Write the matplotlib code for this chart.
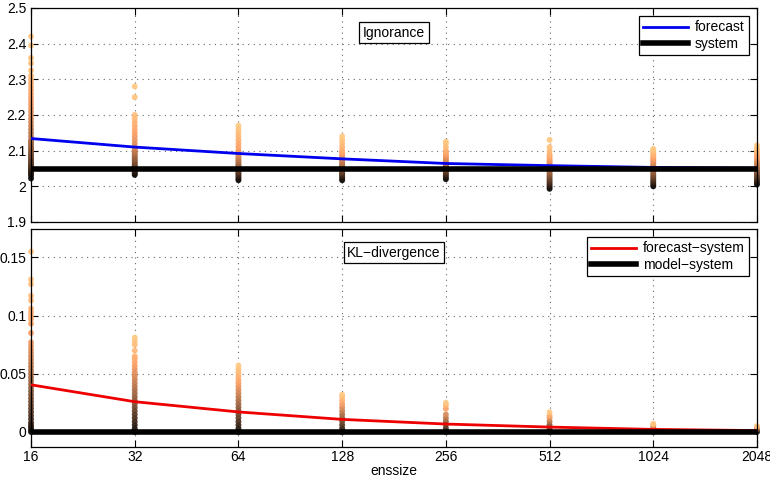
import numpy as np
import matplotlib
matplotlib.use("Agg")
import matplotlib.pyplot as plt

plt.rcParams['font.family'] = ['Liberation Sans', 'DejaVu Sans']

# ensemble sizes
enssize = [16, 32, 64, 128, 256, 512, 1024, 2048]

# mean ignorance of forecast and system
ign_forecast = [2.134, 2.110, 2.092, 2.077, 2.064, 2.058, 2.053, 2.051]
ign_system = [2.048] * 8

# KL-divergence
kl_forecast = [0.0405, 0.026, 0.0172, 0.0108, 0.0068, 0.0042, 0.0022, 0.0012]
kl_model = [0.0] * 8

# individual ignorance scores per ensemble size
ign_points = [
    [2.022, 2.03, 2.036, 2.04, 2.044, 2.048, 2.052, 2.056, 2.06, 2.065, 2.07, 2.075, 2.08,
     2.085, 2.09, 2.095, 2.10, 2.105, 2.11, 2.115, 2.12, 2.125, 2.13, 2.14, 2.15, 2.16,
     2.17, 2.18, 2.19, 2.20, 2.21, 2.22, 2.23, 2.24, 2.25, 2.26, 2.27, 2.28, 2.29, 2.30,
     2.31, 2.325, 2.345, 2.36, 2.395, 2.42],
    [2.032, 2.036, 2.04, 2.044, 2.048, 2.052, 2.056, 2.06, 2.065, 2.07, 2.075, 2.08, 2.085,
     2.09, 2.095, 2.10, 2.105, 2.11, 2.12, 2.13, 2.14, 2.15, 2.16, 2.17, 2.18, 2.19, 2.20,
     2.25, 2.28],
    [2.017, 2.022, 2.027, 2.032, 2.036, 2.04, 2.044, 2.048, 2.052, 2.056, 2.06, 2.065, 2.07,
     2.075, 2.08, 2.085, 2.09, 2.095, 2.10, 2.11, 2.12, 2.13, 2.14, 2.15, 2.16, 2.17],
    [2.017, 2.022, 2.027, 2.032, 2.036, 2.04, 2.044, 2.048, 2.052, 2.056, 2.06, 2.065, 2.07,
     2.075, 2.08, 2.085, 2.09, 2.095, 2.10, 2.11, 2.12, 2.13, 2.14],
    [2.02, 2.025, 2.03, 2.035, 2.04, 2.044, 2.048, 2.052, 2.056, 2.06, 2.065, 2.07, 2.075,
     2.08, 2.085, 2.09, 2.095, 2.10, 2.11, 2.12, 2.125],
    [1.993, 1.998, 2.003, 2.008, 2.013, 2.018, 2.023, 2.028, 2.033, 2.038, 2.043, 2.048,
     2.052, 2.056, 2.06, 2.065, 2.07, 2.075, 2.08, 2.085, 2.09, 2.10, 2.11, 2.13],
    [2.0, 2.005, 2.01, 2.015, 2.02, 2.025, 2.03, 2.035, 2.04, 2.045, 2.05, 2.055, 2.06,
     2.065, 2.07, 2.075, 2.08, 2.085, 2.09, 2.095, 2.10, 2.105],
    [2.005, 2.01, 2.015, 2.02, 2.025, 2.03, 2.035, 2.04, 2.045, 2.05, 2.055, 2.06, 2.065,
     2.07, 2.075, 2.08, 2.085, 2.09, 2.095, 2.10, 2.107, 2.115],
]

# individual KL-divergences per ensemble size
kl_points = [
    [0.0, 0.002, 0.004, 0.006, 0.008, 0.011, 0.014, 0.017, 0.02, 0.023, 0.026, 0.029, 0.032,
     0.035, 0.038, 0.041, 0.044, 0.047, 0.05, 0.053, 0.056, 0.059, 0.062, 0.065, 0.068,
     0.071, 0.074, 0.077, 0.085, 0.093, 0.097, 0.1, 0.103, 0.106, 0.113, 0.117, 0.127,
     0.131, 0.155],
    [0.0, 0.003, 0.006, 0.009, 0.012, 0.015, 0.018, 0.021, 0.024, 0.027, 0.03, 0.033, 0.036,
     0.039, 0.042, 0.045, 0.048, 0.051, 0.054, 0.057, 0.06, 0.063, 0.065, 0.07, 0.075,
     0.078, 0.081],
    [0.0, 0.003, 0.006, 0.009, 0.012, 0.015, 0.018, 0.021, 0.024, 0.027, 0.03, 0.033, 0.036,
     0.039, 0.042, 0.045, 0.048, 0.051, 0.054, 0.057],
    [0.0, 0.003, 0.006, 0.009, 0.012, 0.015, 0.018, 0.021, 0.024, 0.027, 0.03, 0.032],
    [0.0, 0.003, 0.006, 0.009, 0.012, 0.015, 0.02, 0.023, 0.025],
    [0.0, 0.003, 0.006, 0.009, 0.012, 0.014, 0.017],
    [0.0, 0.002, 0.004, 0.006, 0.007],
    [0.0, 0.002, 0.004, 0.005],
]


def scatter_columns(ax, sizes, columns):
    # colour every point by its rank within its column (copper colormap)
    cmap = plt.get_cmap('copper')
    for n, vals in zip(sizes, columns):
        vals = np.sort(np.array(vals))
        ranks = np.linspace(0, 1, len(vals)) ** 0.8
        ax.scatter([n] * len(vals), vals, s=18, c=cmap(ranks), linewidths=0,
                   alpha=0.9, zorder=2, clip_on=False)


def style_axes(ax):
    ax.set_xscale('log', base=2)
    ax.set_xlim(16, 2048)
    ax.set_xticks(enssize)
    ax.grid(True, linestyle=(0, (1, 4)), color='#666666', linewidth=0.8)
    ax.tick_params(direction='in', which='both', top=True, right=True, length=5,
                   labelsize=10, width=0.8)
    ax.tick_params(which='minor', length=0)
    for sp in ax.spines.values():
        sp.set_linewidth(0.9)


fig = plt.figure(figsize=(7.7, 4.78), dpi=100)
ax1 = fig.add_axes([0.0403, 0.5356, 0.9428, 0.4477])
ax2 = fig.add_axes([0.0403, 0.0649, 0.9428, 0.4561])

# top panel: ignorance
scatter_columns(ax1, enssize, ign_points)
ax1.plot(enssize, ign_forecast, color='#0000ee', linewidth=2, label='forecast', zorder=3)
ax1.plot(enssize, ign_system, color='black', linewidth=4, label='system', zorder=4)
style_axes(ax1)
ax1.set_ylim(1.9, 2.5)
ax1.set_yticks([1.9, 2, 2.1, 2.2, 2.3, 2.4, 2.5])
ax1.set_yticklabels(['1.9', '2', '2.1', '2.2', '2.3', '2.4', '2.5'])
ax1.set_xticklabels([])
ax1.text(0.5, 0.885, 'Ignorance', transform=ax1.transAxes, ha='center', va='center',
         fontsize=10, bbox=dict(boxstyle='square,pad=0.25', fc='white', ec='black', lw=0.9),
         zorder=5)
leg1 = ax1.legend(loc='upper right', fontsize=10, fancybox=False, edgecolor='black',
                  framealpha=1, handlelength=3.2, borderaxespad=0.6, labelspacing=0.15,
                  borderpad=0.3, handletextpad=0.5)
leg1.get_frame().set_linewidth(0.9)

# bottom panel: KL-divergence
scatter_columns(ax2, enssize, kl_points)
ax2.plot(enssize, kl_forecast, color='#ee0000', linewidth=2, label='forecast\u2212system', zorder=3)
ax2.plot(enssize, kl_model, color='black', linewidth=4, label='model\u2212system', zorder=4)
style_axes(ax2)
ax2.set_ylim(-0.0129, 0.1744)
ax2.set_yticks([0, 0.05, 0.1, 0.15])
ax2.set_yticklabels(['0', '0.05', '0.1', '0.15'])
ax2.set_xticklabels([str(n) for n in enssize])
ax2.tick_params(axis='x', pad=2)
ax2.set_xlabel('enssize', fontsize=10, labelpad=0)
ax2.text(0.5, 0.89, 'KL\u2212divergence', transform=ax2.transAxes, ha='center', va='center',
         fontsize=10, bbox=dict(boxstyle='square,pad=0.25', fc='white', ec='black', lw=0.9),
         zorder=5)
leg2 = ax2.legend(loc='upper right', fontsize=10, fancybox=False, edgecolor='black',
                  framealpha=1, handlelength=3.2, borderaxespad=0.6, labelspacing=0.15,
                  borderpad=0.3, handletextpad=0.5)
leg2.get_frame().set_linewidth(0.9)

fig.savefig('out.png', dpi=100)
